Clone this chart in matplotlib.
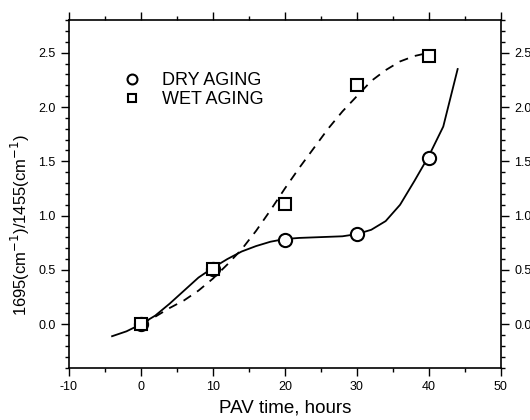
import numpy as np
import matplotlib.pyplot as plt
from matplotlib.ticker import MultipleLocator

plt.rcParams['font.family'] = ['Liberation Sans', 'DejaVu Sans']
plt.rcParams['axes.unicode_minus'] = False

# измерения
hours = [0, 10, 20, 30, 40]
dry = [0.0, 0.51, 0.78, 0.835, 1.53]
wet = [0.0, 0.51, 1.11, 2.20, 2.47]

# сглаживающие кривые
dry_fit_t = [-4, -2, 0, 2, 4, 6, 8, 10, 12, 14, 16, 18, 20, 22, 24, 26, 28, 30,
             32, 34, 36, 38, 40, 42, 44]
dry_fit_y = [-0.11, -0.065, 0.0, 0.08, 0.19, 0.31, 0.43, 0.52, 0.60, 0.67, 0.72,
             0.76, 0.785, 0.795, 0.80, 0.805, 0.81, 0.83, 0.87, 0.95, 1.10, 1.32,
             1.55, 1.82, 2.35]
wet_fit_t = [0, 2, 4, 6, 8, 10, 12, 14, 16, 18, 20, 22, 24, 26, 28, 30, 32, 34,
             36, 38, 40]
wet_fit_y = [0.0, 0.07, 0.15, 0.22, 0.31, 0.42, 0.55, 0.69, 0.86, 1.05, 1.25,
             1.44, 1.62, 1.80, 1.96, 2.10, 2.24, 2.34, 2.42, 2.47, 2.50]

fig = plt.figure(figsize=(5.3, 4.2), dpi=100)
ax = fig.add_axes([0.130, 0.1245, 0.815, 0.8275])

ax.plot(dry_fit_t, dry_fit_y, '-', color='black', lw=1.3)
ax.plot(wet_fit_t, wet_fit_y, '--', color='black', lw=1.3, dashes=(5, 4))
ax.plot(hours, dry, 'o', mfc='white', mec='black', mew=1.5, ms=9.5,
        label='DRY AGING')
ax.plot(hours, wet, 's', mfc='white', mec='black', mew=1.5, ms=8,
        label='WET AGING')

ax.set_xlim(-10, 50)
ax.set_ylim(-0.4, 2.8)
ax.xaxis.set_major_locator(MultipleLocator(10))
ax.xaxis.set_minor_locator(MultipleLocator(5))
ax.yaxis.set_major_locator(MultipleLocator(0.5))
ax.yaxis.set_minor_locator(MultipleLocator(0.1))
ax.tick_params(which='both', direction='out', top=True, right=True,
               labelright=True, labelsize=9, width=1)
ax.tick_params(which='major', length=6)
ax.tick_params(which='minor', length=3)
for s in ax.spines.values():
    s.set_linewidth(1.2)

ax.set_xlabel('PAV time, hours', fontsize=13.5, labelpad=5)
ax.set_ylabel('1695(cm$^{-1}$)/1455(cm$^{-1}$)', fontsize=12)
ax.yaxis.set_label_coords(-0.086, 0.41)

ax.legend(loc='upper left', bbox_to_anchor=(0.087, 0.897), frameon=False,
          fontsize=13, handletextpad=1.15, labelspacing=0.12, handlelength=1.0,
          markerscale=0.75)

fig.savefig('out.png', dpi=100)
